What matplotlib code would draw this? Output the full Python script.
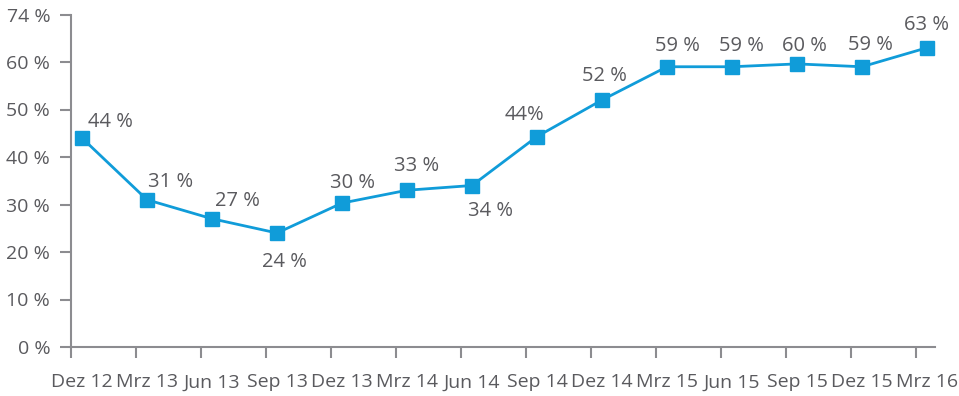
import matplotlib.pyplot as plt

# data
quarters = ["Dez 12", "Mrz 13", "Jun 13", "Sep 13", "Dez 13", "Mrz 14", "Jun 14",
            "Sep 14", "Dez 14", "Mrz 15", "Jun 15", "Sep 15", "Dez 15", "Mrz 16"]
values = [44, 31, 27, 24, 30.3, 33, 34, 44.3, 52, 59, 59, 59.6, 59, 63]
labels = ["44 %", "31 %", "27 %", "24 %", "30 %", "33 %", "34 %",
          "44%", "52 %", "59 %", "59 %", "60 %", "59 %", "63 %"]
ytick_vals = [0, 10, 20, 30, 40, 50, 60, 70]
ytick_labels = ["0 %", "10 %", "20 %", "30 %", "40 %", "50 %", "60 %", "74 %"]

# label offsets in pixels (dx, dy)
offsets = [(28, 16), (24, 18), (25, 18), (7, -29), (10, 20), (10, 24), (19, -26),
           (-13, 22), (2, 24), (10, 21), (9, 21), (7, 18), (8, 22), (0, 23)]

blue = "#109cd9"
axis_col = "#8c8c90"
text_col = "#5a5a5e"
plt.rcParams['font.family'] = ['Open Sans', 'DejaVu Sans']

fig = plt.figure(figsize=(9.59, 3.96), dpi=100)
ax = fig.add_axes([71 / 959, 49 / 396, 864 / 959, 332.5 / 396])

x = list(range(len(values)))
ax.plot(x, values, color=blue, lw=2, marker='s', markersize=10, zorder=3)

for xi, v, lab, (dx, dy) in zip(x, values, labels, offsets):
    ax.annotate(lab, (xi, v), xytext=(dx, dy), textcoords='offset pixels',
                ha='center', va='center', fontsize=14.5, color=text_col)

off = 11 / 65
ax.set_xlim(-off, 13 + 8 / 65)
ax.set_ylim(0, 70)
ax.set_xticks([xi - off for xi in x])
ax.set_xticklabels([])
# labels centred on the points, not on the ticks
ax.set_xticks(x, minor=True)
ax.set_xticklabels(quarters, minor=True)
ax.tick_params(axis='x', which='minor', length=0, pad=19, labelsize=14, labelcolor=text_col)
ax.set_yticks(ytick_vals)
ax.set_yticklabels(ytick_labels)

for s in ['top', 'right']:
    ax.spines[s].set_visible(False)
for s in ['left', 'bottom']:
    ax.spines[s].set_color(axis_col)
    ax.spines[s].set_linewidth(1.5)
ax.tick_params(axis='both', which='major', direction='out', length=8, width=1.5,
               color=axis_col, labelcolor=text_col, labelsize=14, pad=7)

fig.savefig("out.png", dpi=100)
